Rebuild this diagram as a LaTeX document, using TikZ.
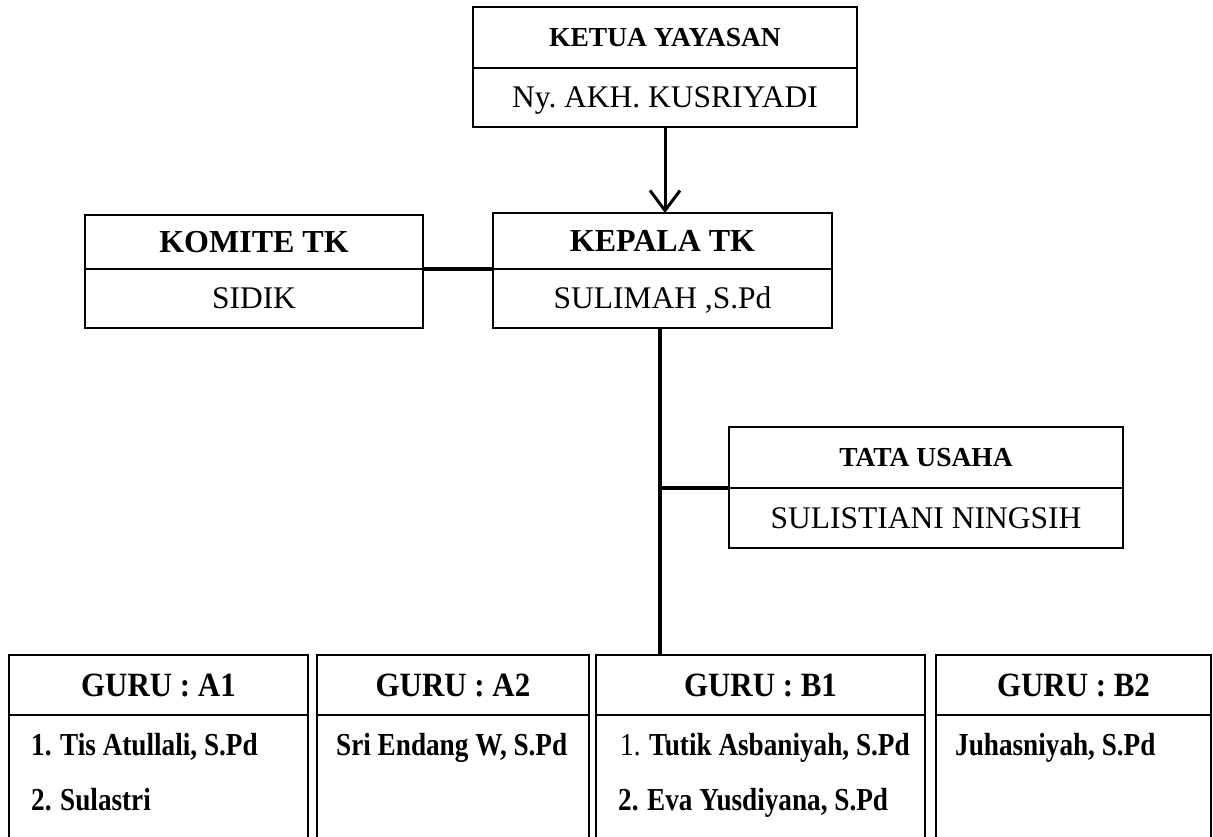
\documentclass[tikz,border=0pt]{standalone}
\usepackage{fontspec}
\setmainfont{Liberation Serif}
\newfontfamily\hfont[FakeStretch=0.91]{Liberation Serif}
\newfontfamily\gfont[FakeStretch=0.85]{Liberation Serif}
\usetikzlibrary{calc,arrows.meta}
\frenchspacing
\tikzset{
  half/.style={draw, line width=1.8pt, inner sep=0pt, outer sep=0pt, text depth=0pt, anchor=north west},
  conn/.style={line width=3.5pt},
  arr/.style={line width=3pt, -{Straight Barb[length=20pt,width=30pt,line width=3pt]}},
  tbig/.style={font=\bfseries\fontsize{32}{38}\selectfont, text height=21.2pt},
  tsmall/.style={font=\bfseries\fontsize{27.5}{32}\selectfont, text height=18.2pt},
  nreg/.style={font=\fontsize{31.5}{38}\selectfont, text height=20.8pt},
  ghead/.style={font=\hfont\bfseries\fontsize{34}{40}\selectfont, text height=22.5pt},
  gname/.style={font=\gfont\bfseries\fontsize{32}{38}\selectfont, inner sep=0pt, anchor=base west},
}
\newcommand{\numb}[1]{\makebox[29pt][l]{#1}}
\begin{document}
\begin{tikzpicture}[x=1pt,y=-1pt]
\useasboundingbox (0,0) rectangle (1213,836);
\clip (0,0) rectangle (1213,836);
% Ketua Yayasan
\node[half, tsmall, minimum width=384, minimum height=61] (ketT) at (473,7) {KETUA YAYASAN};
\node[half, nreg, minimum width=384, minimum height=59] (ketN) at (ketT.south west) {Ny. AKH. KUSRIYADI};
% Komite TK
\node[half, tbig, minimum width=338, minimum height=54] (komT) at (85,215) {KOMITE TK};
\node[half, nreg, minimum width=338, minimum height=59] (komN) at (komT.south west) {SIDIK};
% Kepala TK
\node[half, tbig, minimum width=339, minimum height=56] (kepT) at (493,213) {KEPALA TK};
\node[half, nreg, minimum width=339, minimum height=59] (kepN) at (kepT.south west) {SULIMAH ,S.Pd};
% Tata Usaha
\node[half, tsmall, minimum width=394, minimum height=61] (tataT) at (729,427) {TATA USAHA};
\node[half, nreg, minimum width=394, minimum height=60] (tataN) at (tataT.south west) {SULISTIANI NINGSIH};
% Guru boxes
\node[half, ghead, minimum width=299, minimum height=60] (gA1T) at (9,655) {GURU : A1};
\node[half, minimum width=299, minimum height=160] (gA1N) at (gA1T.south west) {};
\node[half, ghead, minimum width=272, minimum height=60] (gA2T) at (317,655) {GURU : A2};
\node[half, minimum width=272, minimum height=160] (gA2N) at (gA2T.south west) {};
\node[half, ghead, minimum width=329, minimum height=60] (gB1T) at (596,655) {GURU : B1};
\node[half, minimum width=329, minimum height=160] (gB1N) at (gB1T.south west) {};
\node[half, ghead, minimum width=275, minimum height=60] (gB2T) at (936,655) {GURU : B2};
\node[half, minimum width=275, minimum height=160] (gB2N) at (gB2T.south west) {};
% Guru names
\node[gname] (a1a) at ($(gA1T.south west)+(22,40)$) {\numb{1.}Tis Atullali, S.Pd};
\node[gname] (a1b) at ($(gA1T.south west)+(22,95)$) {\numb{2.}Sulastri};
\node[gname] (a2a) at ($(gA2T.south west)+(19,40)$) {Sri Endang W, S.Pd};
\node[gname] (b1a) at ($(gB1T.south west)+(24,40)$) {\numb{\mdseries 1.}Tutik Asbaniyah, S.Pd};
\node[gname] (b1b) at ($(gB1T.south west)+(22,95)$) {\numb{2.}Eva Yusdiyana, S.Pd};
\node[gname] (b2a) at ($(gB2T.south west)+(19,40)$) {Juhasniyah, S.Pd};
% Connectors
\draw[arr] (ketN.south) -- (ketN.south |- kepT.north);
\draw[conn] (komT.south east) -- (kepT.south west);
\draw[conn] ([xshift=-2.5pt]kepN.south) -- ([xshift=-2.5pt]kepN.south |- gB1T.north);
\coordinate (junc) at ([xshift=-2.5pt]kepN.south |- tataT.south west);
\draw[conn] (junc) -- (tataT.south west);
\end{tikzpicture}
\end{document}
